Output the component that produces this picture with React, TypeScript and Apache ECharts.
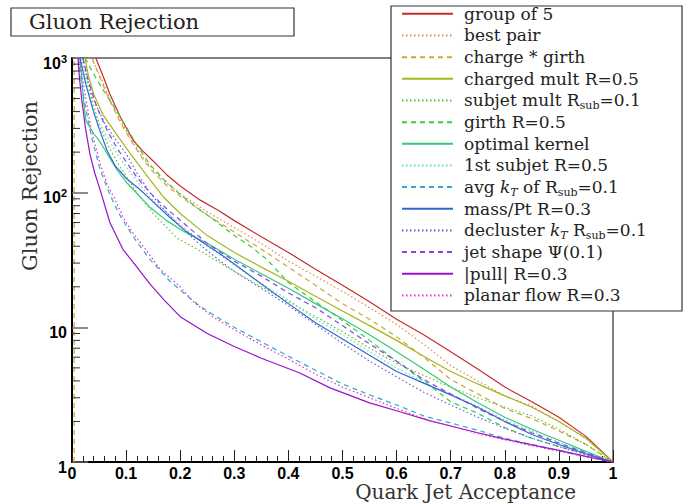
import React, { useEffect, useRef } from 'react';
import * as echarts from 'echarts';

type Pt = [number, number];

// ---- data (x = quark jet acceptance, y = gluon rejection) ----
const groupOf5: Pt[] = [[0.044,1000],[0.06,690],[0.07,540],[0.09,360],[0.113,245],[0.13,205],[0.15,172],[0.175,136],[0.2,112],[0.237,88],[0.27,74],[0.3,62],[0.35,47],[0.4,36],[0.45,27],[0.5,20.5],[0.55,15.5],[0.6,11.5],[0.65,8.8],[0.7,6.6],[0.75,4.9],[0.8,3.6],[0.85,2.8],[0.9,2.15],[0.95,1.55],[1,1]];
const bestPair: Pt[] = [[0.036,1000],[0.05,760],[0.07,500],[0.09,340],[0.11,245],[0.13,185],[0.15,148],[0.175,118],[0.2,98],[0.25,72],[0.3,55],[0.35,42],[0.4,31],[0.45,24],[0.5,18.5],[0.55,14],[0.6,10.5],[0.65,7.5],[0.7,5.2],[0.75,4.0],[0.8,3.1],[0.85,2.6],[0.9,2.0],[0.95,1.5],[1,1]];
const chargeGirth: Pt[] = [[0.004,1],[0.004,1000],[0.037,1000],[0.05,740],[0.07,480],[0.09,330],[0.11,240],[0.13,180],[0.15,142],[0.175,113],[0.2,94],[0.25,68],[0.3,51],[0.35,38],[0.4,28],[0.45,20.5],[0.5,15],[0.55,11.5],[0.6,8.5],[0.65,6],[0.7,4.1],[0.75,3.2],[0.8,2.5],[0.85,2.1],[0.9,1.7],[0.95,1.35],[1,1]];
const chargedMult: Pt[] = [[0.024,1000],[0.03,750],[0.04,540],[0.057,380],[0.076,295],[0.1,215],[0.12,168],[0.144,125],[0.17,92],[0.2,70],[0.25,48],[0.3,36],[0.35,28],[0.4,22],[0.45,17],[0.5,13.2],[0.55,10.3],[0.6,8],[0.65,6.1],[0.7,4.7],[0.75,3.8],[0.8,3.1],[0.85,2.55],[0.9,2.0],[0.95,1.5],[1,1]];
const subjetMult: Pt[] = [[0.02,1000],[0.03,620],[0.05,320],[0.07,210],[0.089,155],[0.12,100],[0.15,70],[0.194,46],[0.237,37],[0.3,26],[0.35,20],[0.4,15.5],[0.45,12],[0.5,9.3],[0.55,7],[0.6,5.4],[0.65,4.4],[0.7,3.6],[0.75,3.0],[0.8,2.55],[0.85,2.2],[0.9,1.75],[0.95,1.35],[1,1]];
const girth: Pt[] = [[0.024,1000],[0.04,760],[0.06,560],[0.08,420],[0.1,310],[0.12,225],[0.144,162],[0.17,125],[0.2,97],[0.23,78],[0.26,64],[0.3,48],[0.33,40],[0.36,32],[0.4,21.5],[0.45,15.5],[0.5,11.2],[0.55,8],[0.6,5.6],[0.65,4.0],[0.7,2.8],[0.75,2.3],[0.8,1.8],[0.85,1.5],[0.9,1.3],[0.95,1.15],[1,1]];
const optimalKernel: Pt[] = [[0.015,1000],[0.018,700],[0.022,450],[0.026,340],[0.032,310],[0.04,275],[0.052,238],[0.065,195],[0.083,148],[0.1,120],[0.126,93],[0.144,78],[0.175,62],[0.205,52],[0.255,41],[0.3,32],[0.35,25],[0.4,19.5],[0.45,15],[0.5,11.6],[0.556,8.5],[0.6,6.6],[0.65,4.9],[0.7,3.6],[0.75,2.75],[0.8,2.15],[0.85,1.75],[0.9,1.45],[0.95,1.2],[1,1]];
const firstSubjet: Pt[] = [[0.018,1000],[0.03,560],[0.05,330],[0.08,205],[0.1,155],[0.144,92],[0.2,58],[0.25,40],[0.3,29],[0.35,21],[0.4,16],[0.45,11.5],[0.5,8.8],[0.55,6.6],[0.6,5.0],[0.65,3.9],[0.7,3.2],[0.75,2.6],[0.8,2.05],[0.85,1.7],[0.9,1.4],[0.95,1.18],[1,1]];
const avgKt: Pt[] = [[0.012,1000],[0.02,560],[0.03,340],[0.037,250],[0.052,148],[0.07,97],[0.085,72],[0.1,57],[0.12,43],[0.144,32],[0.181,22],[0.21,17.5],[0.237,14.3],[0.27,11.8],[0.3,10],[0.35,7.8],[0.4,6.1],[0.45,4.8],[0.5,3.8],[0.55,3.15],[0.6,2.65],[0.65,2.2],[0.7,1.95],[0.75,1.72],[0.8,1.5],[0.85,1.35],[0.9,1.22],[0.95,1.1],[1,1]];
const massPt: Pt[] = [[0.015,1000],[0.025,650],[0.039,410],[0.05,300],[0.065,205],[0.08,158],[0.1,128],[0.126,105],[0.144,90],[0.18,66],[0.21,52],[0.237,44],[0.27,36],[0.3,29.5],[0.35,21],[0.4,15],[0.45,10.8],[0.5,8.2],[0.55,6.2],[0.6,4.7],[0.65,3.85],[0.7,3.15],[0.75,2.55],[0.8,2.0],[0.85,1.6],[0.9,1.35],[0.95,1.15],[1,1]];
const declusterKt: Pt[] = [[0.02,1000],[0.03,680],[0.039,500],[0.06,330],[0.08,250],[0.1,195],[0.12,140],[0.144,100],[0.17,75],[0.2,56],[0.24,40],[0.27,32],[0.3,26],[0.35,19.5],[0.4,14.5],[0.45,10.5],[0.5,7.6],[0.55,5.6],[0.6,4.3],[0.65,3.3],[0.7,2.65],[0.75,2.15],[0.8,1.78],[0.85,1.5],[0.9,1.3],[0.95,1.13],[1,1]];
const jetShape: Pt[] = [[0.02,1000],[0.03,680],[0.046,430],[0.065,290],[0.083,215],[0.1,170],[0.12,130],[0.144,100],[0.175,76],[0.205,60],[0.25,42],[0.3,31],[0.35,24],[0.4,18],[0.45,14],[0.5,10.3],[0.54,8],[0.6,5.6],[0.65,4.1],[0.7,3.2],[0.75,2.5],[0.8,2.0],[0.85,1.65],[0.9,1.38],[0.95,1.17],[1,1]];
const pull: Pt[] = [[0.011,1000],[0.014,700],[0.018,490],[0.025,300],[0.033,195],[0.042,140],[0.052,105],[0.07,60],[0.094,38],[0.12,28],[0.144,21],[0.17,16],[0.2,12],[0.25,9],[0.3,7.2],[0.35,5.9],[0.42,4.6],[0.477,3.55],[0.55,2.75],[0.6,2.4],[0.662,2.02],[0.7,1.85],[0.75,1.65],[0.8,1.48],[0.85,1.34],[0.9,1.22],[0.95,1.1],[1,1]];
const planarFlow: Pt[] = [[0.014,1000],[0.02,680],[0.025,520],[0.035,300],[0.052,165],[0.065,115],[0.079,90],[0.095,65],[0.113,50],[0.14,36],[0.163,27],[0.2,20],[0.224,15.5],[0.26,12],[0.3,9.6],[0.35,7.4],[0.4,5.8],[0.45,4.5],[0.5,3.6],[0.55,3.0],[0.6,2.5],[0.662,2.02],[0.7,1.85],[0.75,1.62],[0.8,1.46],[0.85,1.32],[0.9,1.2],[0.95,1.09],[1,1]];

const seriesNames = [
  'group of 5', 'best pair', 'charge * girth', 'charged mult R=0.5', 'subjet mult Rsub=0.1',
  'girth R=0.5', 'optimal kernel', '1st subjet R=0.5', 'avg kT of Rsub=0.1', 'mass/Pt R=0.3',
  'decluster kT Rsub=0.1', 'jet shape Ψ(0.1)', '|pull| R=0.3', 'planar flow R=0.3',
];
const seriesLabels = [
  '{n|group of 5}', '{n|best pair}', '{n|charge * girth}', '{n|charged mult R=0.5}',
  '{n|subjet mult R}{s|sub}{n|=0.1}', '{n|girth R=0.5}', '{n|optimal kernel}', '{n|1st subjet R=0.5}',
  '{n|avg }{i|k}{t|T}{n| of R}{s|sub}{n|=0.1}', '{n|mass/Pt R=0.3}',
  '{n|decluster }{i|k}{t|T}{n| R}{s|sub}{n|=0.1}', '{n|jet shape Ψ(0.1)}', '{n||pull| R=0.3}', '{n|planar flow R=0.3}',
];
const seriesData: Pt[][] = [
  groupOf5, bestPair, chargeGirth, chargedMult, subjetMult, girth, optimalKernel,
  firstSubjet, avgKt, massPt, declusterKt, jetShape, pull, planarFlow,
];
const xTickLabels = ['0', '0.1', '0.2', '0.3', '0.4', '0.5', '0.6', '0.7', '0.8', '0.9', '1'];
const yMinorTickValues = [2, 3, 4, 5, 6, 7, 8, 9, 20, 30, 40, 50, 60, 70, 80, 90, 200, 300, 400, 500, 600, 700, 800, 900];

// ---- styles ----
const seriesColors = [
  '#c62b2b', '#e6864a', '#cfa53a', '#a6b51e', '#55c822', '#33cc44', '#33c97a',
  '#66d8c0', '#33a8cc', '#3366cc', '#5f5fdd', '#8844dd', '#9911cc', '#dd33bb',
];
const DOT = [1.5, 2.5];
const DASH = [5, 4];
const seriesLineTypes: any[] = [
  'solid', DOT, DASH, 'solid', DOT, DASH, 'solid', DOT, DASH, 'solid', DOT, DASH, 'solid', DOT,
];

const SERIF = 'DejaVu Serif';
const SANS = 'Liberation Sans';
const RICH_SERIF = "'DejaVu Serif', serif";
const RICH_SANS = 'Arial';
const LH = 21.66;

export default function App() {
  const ref = useRef<HTMLDivElement>(null);
  useEffect(() => {
    if (!ref.current) return;
    const chart = echarts.init(ref.current, undefined, { renderer: 'svg' });
    const lineSeries = seriesNames.map((name, i) => ({
      name,
      type: 'line',
      data: seriesData[i],
      showSymbol: false,
      symbol: 'none',
      z: 2,
      lineStyle: { color: seriesColors[i], width: 1.2, type: seriesLineTypes[i] },
      itemStyle: { color: seriesColors[i] },
    }));
    const option: any = {
      animation: false,
      backgroundColor: '#ffffff',
      textStyle: { fontFamily: RICH_SERIF },
      grid: { left: 72, right: 76, top: 58, bottom: 42, show: true, borderColor: '#000', borderWidth: 1, backgroundColor: 'transparent' },
      xAxis: {
        type: 'value', min: 0, max: 1, interval: 0.1,
        axisLine: { show: true, onZero: false, lineStyle: { color: '#000', width: 2 } },
        axisTick: { show: true, inside: true, length: 12, lineStyle: { color: '#222', width: 1 } },
        minorTick: { show: true, splitNumber: 5, length: 6, lineStyle: { color: '#222', width: 1 } },
        splitLine: { show: false },
        axisLabel: {
          margin: 4,
          lineHeight: 14,
          formatter: (v: number) => xTickLabels[Math.round(v * 10)],
          fontFamily: SANS, fontWeight: 'bold', fontSize: 16, color: '#000',
        },
      },
      yAxis: {
        type: 'log', logBase: 10, min: 1, max: 1000,
        axisLine: { show: true, onZero: false, lineStyle: { color: '#000', width: 2 } },
        axisTick: { show: true, inside: true, length: 16, lineStyle: { color: '#666', width: 1.5 } },
        minorTick: { show: false },
        splitLine: { show: false },
        axisLabel: {
          margin: 5,
          padding: [10, 0, 0, 0],
          fontFamily: RICH_SANS,
          formatter: (v: number) => {
            if (v >= 999) return '{b|10}{p|3}';
            if (v >= 99) return '{b|10}{p|2}';
            if (v >= 9) return '{b|10}';
            return '{b|1}';
          },
          rich: {
            b: { fontFamily: RICH_SANS, fontWeight: 'bold', fontSize: 16, lineHeight: 20, color: '#000' },
            p: { fontFamily: RICH_SANS, fontWeight: 'bold', fontSize: 11, lineHeight: 10, verticalAlign: 'top', color: '#000' },
          },
        },
      },
      legend: {
        orient: 'vertical', left: 401, top: 3, padding: 0, itemGap: 0,
        itemWidth: 51, itemHeight: 10, selectedMode: false, z: 4,
        itemStyle: { color: 'rgba(0,0,0,0)', borderWidth: 0, opacity: 0 },
        data: seriesNames,
        formatter: (name: string) => seriesLabels[seriesNames.indexOf(name)],
        textStyle: {
          fontFamily: RICH_SERIF, fontSize: 17, color: '#222', lineHeight: LH, padding: [0, 0, 0, 6],
          rich: {
            n: { fontFamily: RICH_SERIF, fontSize: 17, color: '#222', lineHeight: LH },
            i: { fontFamily: RICH_SERIF, fontStyle: 'italic', fontSize: 17, color: '#222', lineHeight: LH },
            s: { fontFamily: RICH_SERIF, fontSize: 11, color: '#222', lineHeight: 12, verticalAlign: 'bottom' },
            t: { fontFamily: RICH_SERIF, fontStyle: 'italic', fontSize: 11, color: '#222', lineHeight: 12, verticalAlign: 'bottom' },
          },
        },
      },
      graphic: [
        { type: 'rect', z: 3, shape: { x: 11, y: 8, width: 283, height: 28 }, style: { fill: '#fff', stroke: '#333', lineWidth: 1.2 } },
        { type: 'text', z: 3, x: 29, y: 22, style: { text: 'Gluon Rejection', fontFamily: SERIF, fontSize: 21, fill: '#222', textAlign: 'left', verticalAlign: 'middle' } },
        { type: 'rect', z: 3, shape: { x: 391, y: 6, width: 291, height: 305 }, style: { fill: '#fff', stroke: '#333', lineWidth: 1.2 } },
        { type: 'text', z: 3, x: 576, y: 492, style: { text: 'Quark Jet Acceptance', fontFamily: SERIF, fontSize: 20, fill: '#333', textAlign: 'right', verticalAlign: 'middle' } },
        { type: 'text', z: 3, x: 30, y: 186, rotation: Math.PI / 2, style: { text: 'Gluon Rejection', fontFamily: SERIF, fontSize: 21, fill: '#333', textAlign: 'center', verticalAlign: 'middle' } },
      ],
      series: [
        ...lineSeries,
        {
          name: 'yMinorTicks',
          type: 'custom',
          silent: true,
          clip: false,
          z: 3,
          data: yMinorTickValues.map((v) => [0, v]),
          renderItem: (_p: any, api: any) => {
            const pt = api.coord([0, api.value(1)]);
            return {
              type: 'line',
              shape: { x1: pt[0], y1: pt[1], x2: pt[0] + 8, y2: pt[1] },
              style: { stroke: '#333', lineWidth: 1 },
            };
          },
        },
      ],
    };
    chart.setOption(option);
    return () => chart.dispose();
  }, []);
  return <div ref={ref} style={{ position: 'fixed', left: 0, top: 0, width: 689, height: 504 }} />;
}
